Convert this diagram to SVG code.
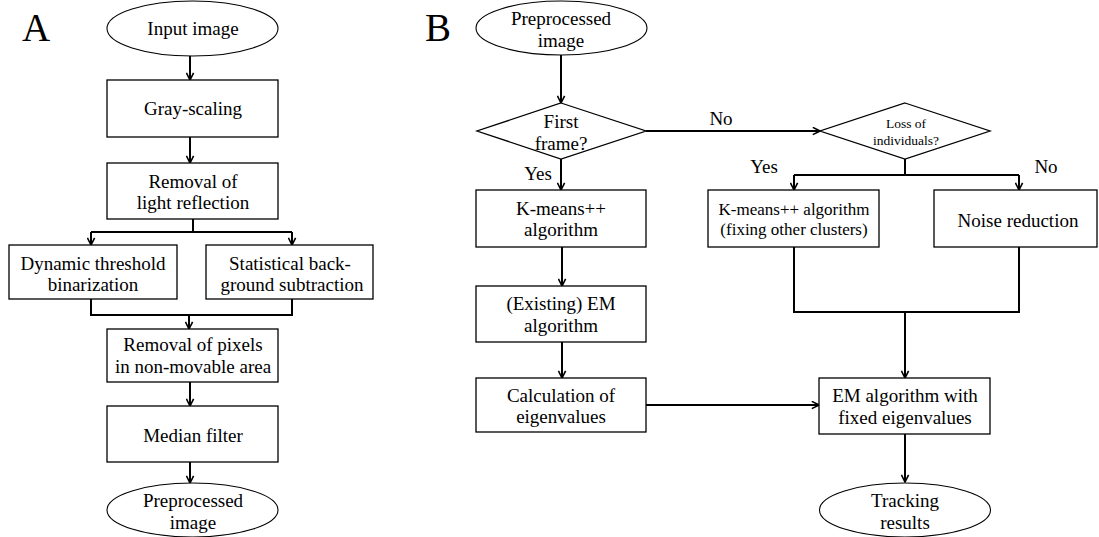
<svg xmlns="http://www.w3.org/2000/svg" width="1099" height="537" viewBox="0 0 1099 537">
<style>
text{font-family:"Liberation Serif","Times New Roman",serif;font-size:19px;fill:#000;text-anchor:middle}
.lbl{font-size:39px;text-anchor:start}
.sm{font-size:13.5px}
.mid{font-size:17px}
.box{fill:#fff;stroke:#000;stroke-width:1.3}
.ell{fill:#fff;stroke:#000;stroke-width:1.1}
.con{fill:none;stroke:#000;stroke-width:2}
.arr{marker-end:url(#ah)}
</style>
<defs>
<marker id="ah" viewBox="0 0 10 10" refX="9" refY="5" markerWidth="9" markerHeight="9" markerUnits="userSpaceOnUse" orient="auto">
<path d="M1,1 L9,5 L1,9" fill="none" stroke="#000" stroke-width="1.8"/>
</marker>
</defs>
<rect width="1099" height="537" fill="#fff"/>
<text class="lbl" x="22" y="41">A</text>
<text class="lbl" x="425" y="41">B</text>

<g id="connectors">
<!-- Panel A -->
<path class="con arr" d="M190,56 V80"/>
<path class="con arr" d="M190,137 V163"/>
<path class="con" d="M193,219 V232"/>
<path class="con" d="M91,232 H292"/>
<path class="con arr" d="M91,232 V245"/>
<path class="con arr" d="M292,232 V245"/>
<path class="con" d="M91,299 V315 H292 V299"/>
<path class="con arr" d="M189,315 V329"/>
<path class="con arr" d="M190,382 V406"/>
<path class="con arr" d="M190,462 V483"/>
<!-- Panel B -->
<path class="con arr" d="M561,55 V103"/>
<path class="con arr" d="M646,131 H820"/>
<path class="con arr" d="M561,159 V190"/>
<path class="con" d="M905,159 V175"/>
<path class="con" d="M794,175 H1019"/>
<path class="con arr" d="M794,175 V190"/>
<path class="con arr" d="M1019,175 V190"/>
<path class="con arr" d="M562,247 V286"/>
<path class="con arr" d="M562,342 V378"/>
<path class="con" d="M794,247 V312 H1019 V247"/>
<path class="con arr" d="M905,312 V378"/>
<path class="con arr" d="M646,405 H819"/>
<path class="con arr" d="M905,434 V482"/>
</g>

<g id="a-input">
<ellipse class="ell" cx="192.5" cy="28.5" rx="85.5" ry="27.5"/>
<text x="193" y="35">Input image</text>
</g>
<g id="a-gray">
<rect class="box" x="107" y="80" width="171" height="57"/>
<text x="193" y="115">Gray-scaling</text>
</g>
<g id="a-reflection">
<rect class="box" x="107" y="163" width="171" height="56"/>
<text x="193" y="188">Removal of</text>
<text x="193" y="209">light reflection</text>
</g>
<g id="a-dynamic">
<rect class="box" x="9" y="245" width="168" height="54"/>
<text x="93" y="270">Dynamic threshold</text>
<text x="93" y="291">binarization</text>
</g>
<g id="a-statistical">
<rect class="box" x="206" y="245" width="167" height="54"/>
<text x="290" y="270">Statistical back-</text>
<text x="292" y="291">ground subtraction</text>
</g>
<g id="a-pixels">
<rect class="box" x="107" y="329" width="171" height="53"/>
<text x="193" y="351">Removal of pixels</text>
<text x="193" y="373">in non-movable area</text>
</g>
<g id="a-median">
<rect class="box" x="107" y="406" width="171" height="56"/>
<text x="193" y="442">Median filter</text>
</g>
<g id="a-preprocessed">
<ellipse class="ell" cx="192.5" cy="510" rx="85.5" ry="27"/>
<text x="193" y="507">Preprocessed</text>
<text x="193" y="529">image</text>
</g>

<g id="b-preprocessed">
<ellipse class="ell" cx="561.5" cy="28" rx="85.5" ry="27"/>
<text x="561" y="25">Preprocessed</text>
<text x="561" y="47">image</text>
</g>
<g id="b-first">
<polygon class="box" points="561,103 646,131 561,159 477,131"/>
<text x="561" y="128">First</text>
<text x="561" y="150">frame?</text>
</g>
<g id="b-loss">
<polygon class="box" points="905,103 990,131 905,159 820,131"/>
<text class="sm" x="906" y="128">Loss of</text>
<text class="sm" x="906" y="145">individuals?</text>
</g>
<g id="b-kmeans">
<rect class="box" x="476" y="190" width="170" height="57"/>
<text x="561" y="215">K-means++</text>
<text x="561" y="236">algorithm</text>
</g>
<g id="b-kmeans-fix">
<rect class="box" x="708" y="190" width="171" height="57"/>
<text class="mid" x="794" y="215">K-means++ algorithm</text>
<text class="mid" x="794" y="235">(fixing other clusters)</text>
</g>
<g id="b-noise">
<rect class="box" x="934" y="190" width="163" height="57"/>
<text x="1018" y="227">Noise reduction</text>
</g>
<g id="b-existing">
<rect class="box" x="476" y="286" width="170" height="56"/>
<text x="561" y="310">(Existing) EM</text>
<text x="561" y="332">algorithm</text>
</g>
<g id="b-calc">
<rect class="box" x="476" y="378" width="170" height="54"/>
<text x="561" y="402">Calculation of</text>
<text x="561" y="423">eigenvalues</text>
</g>
<g id="b-em">
<rect class="box" x="819" y="378" width="171" height="56"/>
<text x="905" y="402">EM algorithm with</text>
<text x="905" y="424">fixed eigenvalues</text>
</g>
<g id="b-tracking">
<ellipse class="ell" cx="905" cy="510" rx="85.5" ry="27"/>
<text x="905" y="507">Tracking</text>
<text x="905" y="529">results</text>
</g>

<g id="labels">
<text x="721" y="125">No</text>
<text x="538" y="180">Yes</text>
<text x="764" y="173">Yes</text>
<text x="1046" y="173">No</text>
</g>
</svg>
